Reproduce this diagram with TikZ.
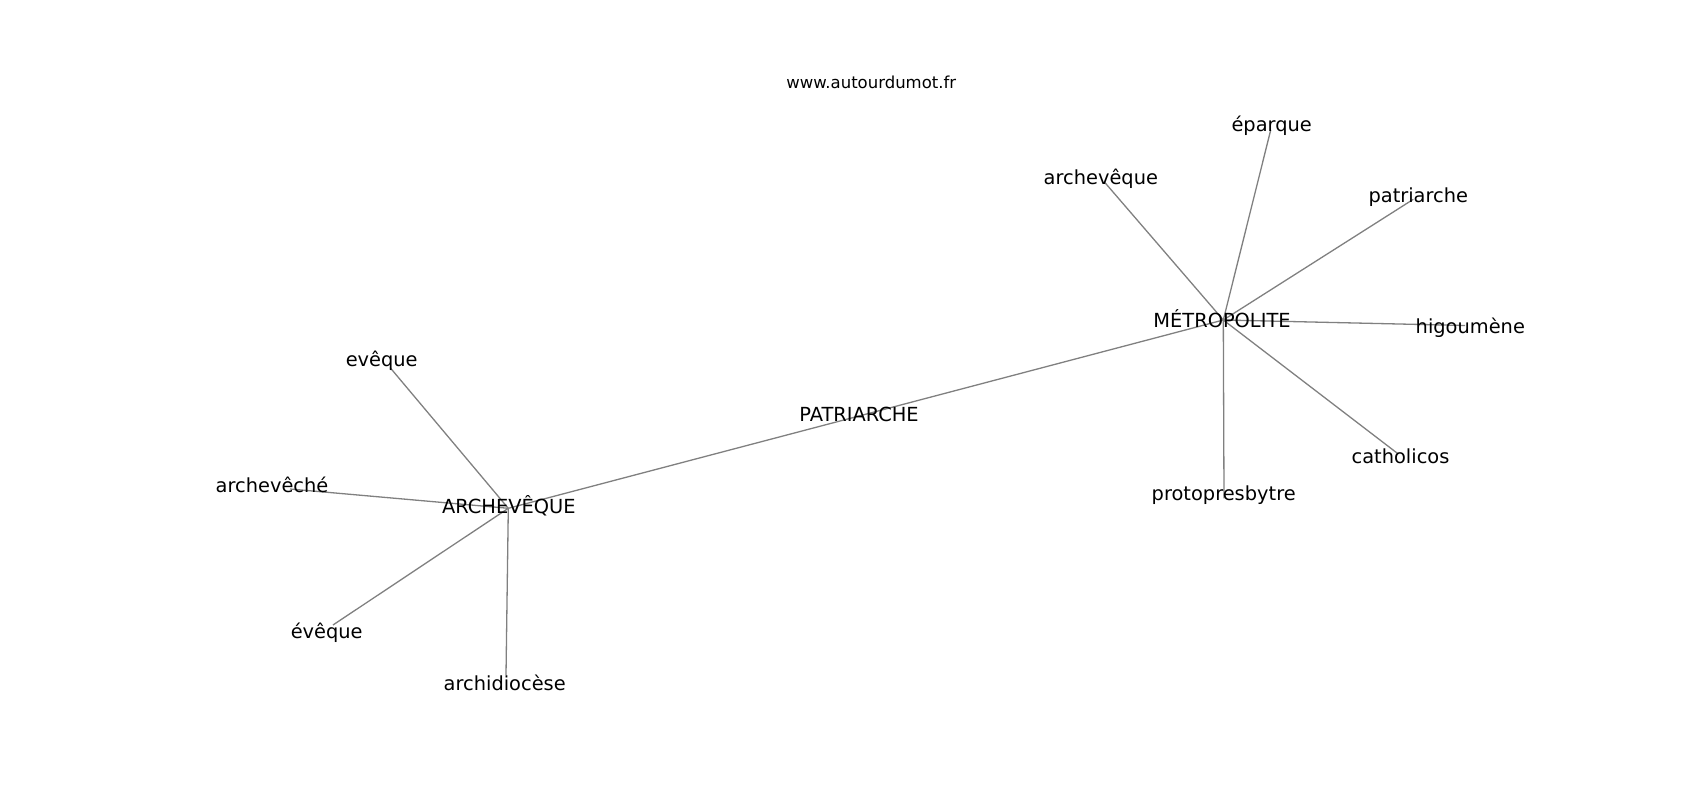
\documentclass[tikz,border=0pt]{standalone}
\usepackage{fontspec}
\setmainfont{DejaVu Sans}
\usepackage{xcolor}
\newcommand{\word}[4]{\node[wordlabel] (#1) at (#2,#3) {#4};}
\tikzset{
  wordlabel/.style={anchor=base, inner sep=0pt, text=black, font=\fontsize{19.4}{23}\selectfont},
  link/.style={draw=gray, line width=1.3pt}
}

\begin{document}
\begin{tikzpicture}[x=1pt,y=-1pt]
\useasboundingbox (0,0) rectangle (1700,800);

% graph vertices
\coordinate (v-archeveque) at (508.3,508.3);
\coordinate (v-patriarche) at (859,416);
\coordinate (v-metropolite) at (1223.3,320);
\coordinate (v-eveque) at (390,367.5);
\coordinate (v-archeveche) at (290,489);
\coordinate (v-eveque2) at (333,625);
\coordinate (v-archidiocese) at (506,675);
\coordinate (v-archeveque2) at (1105,182.7);
\coordinate (v-eparque) at (1270.7,130);
\coordinate (v-patriarche2) at (1413.3,199.3);
\coordinate (v-higoumene) at (1465,325.5);
\coordinate (v-catholicos) at (1398.3,454);
\coordinate (v-protopresbytre) at (1224,498.3);

% edges
\draw[link] (v-archeveque) -- (v-patriarche);
\draw[link] (v-patriarche) -- (v-metropolite);
\draw[link] (v-archeveque) -- (v-eveque);
\draw[link] (v-archeveque) -- (v-archeveche);
\draw[link] (v-archeveque) -- (v-eveque2);
\draw[link] (v-archeveque) -- (v-archidiocese);
\draw[link] (v-metropolite) -- (v-archeveque2);
\draw[link] (v-metropolite) -- (v-eparque);
\draw[link] (v-metropolite) -- (v-patriarche2);
\draw[link] (v-metropolite) -- (v-higoumene);
\draw[link] (v-metropolite) -- (v-catholicos);
\draw[link] (v-metropolite) -- (v-protopresbytre);

% labels
\word{archeveque}{508.8}{513}{ARCHEVÊQUE}
\word{patriarche}{859}{421}{PATRIARCHE}
\word{metropolite}{1222}{327.5}{MÉTROPOLITE}
\word{eveque}{381.7}{366.5}{evêque}
\word{archeveche}{272}{492.5}{archevêché}
\word{eveque2}{326.7}{638}{évêque}
\word{archidiocese}{504.7}{690.5}{archidiocèse}
\word{archeveque2}{1100.8}{184}{archevêque}
\word{eparque}{1271.7}{131}{éparque}
\word{patriarche2}{1418.3}{202.5}{patriarche}
\word{higoumene}{1470.3}{333.3}{higoumène}
\word{catholicos}{1400.5}{463}{catholicos}
\word{protopresbytre}{1223.7}{500.5}{protopresbytre}

\node[anchor=base, inner sep=0pt, font=\fontsize{16.5}{20}\selectfont] (site) at (871.3,88.7) {www.autourdumot.fr};

\end{tikzpicture}
\end{document}
